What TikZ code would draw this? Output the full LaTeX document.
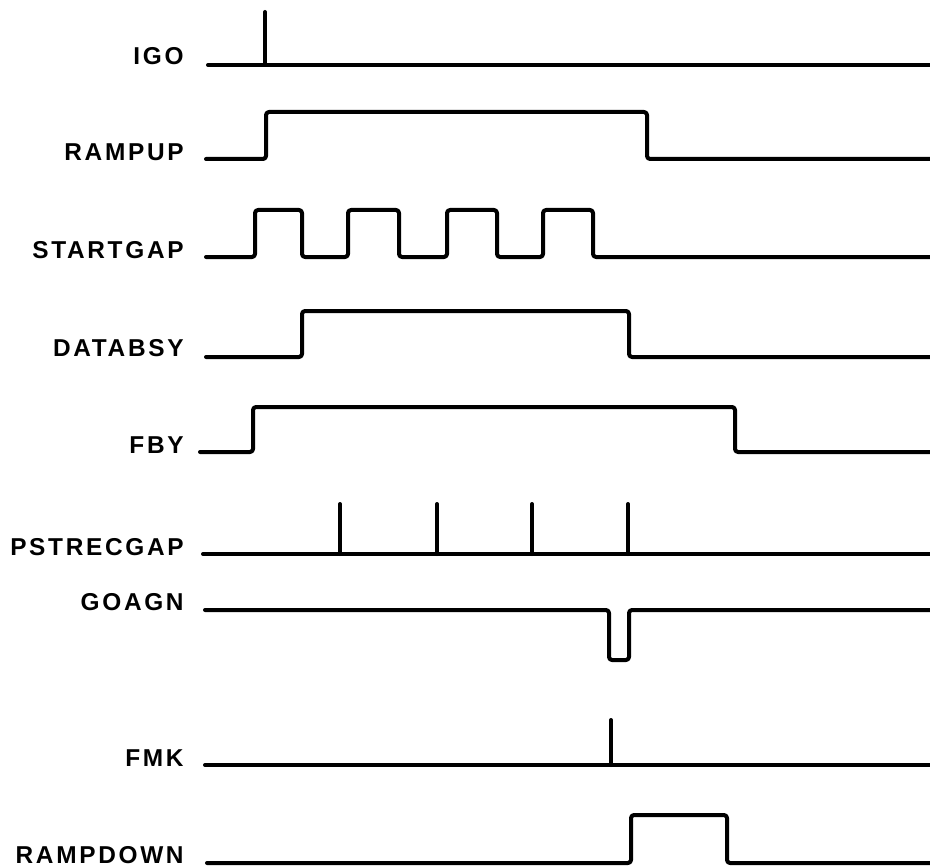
\documentclass[tikz,border=0pt]{standalone}
\usepackage{fontspec}
\newfontfamily\sigfont{Liberation Sans}[LetterSpace=11]
\tikzset{
  wave/.style={line width=2pt, rounded corners=1.5pt, line join=round,
               line cap=round, draw=black},
  siglabel/.style={font=\sigfont\bfseries\fontsize{12.2}{13}\selectfont,
                   anchor=base east, inner sep=0pt},
}

\begin{document}
\begin{tikzpicture}[x=0.5pt, y=-0.5pt]
  \useasboundingbox (0,0) rectangle (930,866);

  % --- signal names ---
  \node[siglabel] (igo)       at (184, 65) {IGO};
  \node[siglabel] (rampup)    at (184,161) {RAMPUP};
  \node[siglabel] (startgap)  at (184,258) {STARTGAP};
  \node[siglabel] (databsy)   at (184,356) {DATABSY};
  \node[siglabel] (fby)       at (184,453) {FBY};
  \node[siglabel] (pstrecgap) at (184,555) {PSTRECGAP};
  \node[siglabel] (goagn)     at (184,610) {GOAGN};
  \node[siglabel] (fmk)       at (184,766) {FMK};
  \node[siglabel] (rampdown)  at (184,863) {RAMPDOWN};

  % --- waveforms ---
  \draw[wave] (208,65) -- (930,65);
  \draw[wave] (265,65) -- (265,12);

  \draw[wave] (206,159) -- (266,159) -- (266,112) -- (647,112)
              -- (647,159) -- (930,159);

  \draw[wave] (206,257) -- (255,257) -- (255,210) -- (302,210) -- (302,257)
              -- (348,257) -- (348,210) -- (399,210) -- (399,257)
              -- (447,257) -- (447,210) -- (497,210) -- (497,257)
              -- (543,257) -- (543,210) -- (593,210) -- (593,257) -- (930,257);

  \draw[wave] (206,357) -- (302,357) -- (302,311) -- (629,311)
              -- (629,357) -- (930,357);

  \draw[wave] (200,452) -- (253,452) -- (253,407) -- (735,407)
              -- (735,452) -- (930,452);

  \draw[wave] (203,554) -- (930,554);
  \foreach \tx in {340,437,532,628}
    \draw[wave] (\tx,554) -- (\tx,504);

  \draw[wave] (205,610) -- (609,610) -- (609,660) -- (629,660)
              -- (629,610) -- (930,610);

  \draw[wave] (205,765) -- (930,765);
  \draw[wave] (611,765) -- (611,720);

  \draw[wave] (207,863) -- (631,863) -- (631,815) -- (727,815)
              -- (727,863) -- (930,863);
\end{tikzpicture}
\end{document}
